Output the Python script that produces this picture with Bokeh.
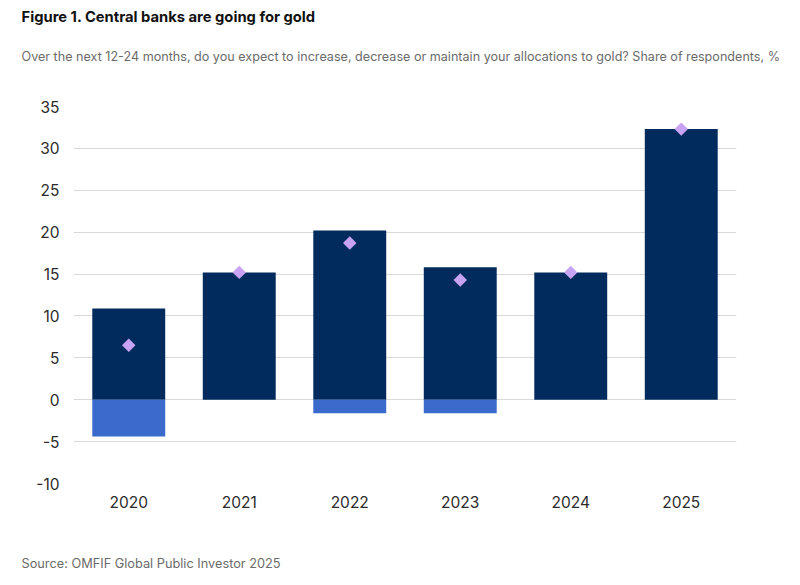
import math
from bokeh.plotting import figure
from bokeh.models import Title, FixedTicker, ColumnDataSource
from bokeh.embed import file_html
from bokeh.resources import INLINE

years = ["2020", "2021", "2022", "2023", "2024", "2025"]
increase = [10.9, 15.2, 20.2, 15.8, 15.2, 32.3]
decrease = [-4.4, 0.0, -1.6, -1.6, 0.0, 0.0]
net = [6.5, 15.2, 18.7, 14.3, 15.2, 32.3]
y_ticks = [-10, -5, 0, 5, 10, 15, 20, 25, 30, 35]

title_text = "Figure 1. Central banks are going for gold"
subtitle_text = ("Over the next 12-24 months, do you expect to increase, decrease or maintain "
                 "your allocations to gold? Share of respondents, %")
source_text = "Source: OMFIF Global Public Investor 2025"

src = ColumnDataSource(dict(year=years, inc=increase, dec=decrease, net=net))

p = figure(x_range=years, y_range=(-10, 35), width=784, height=585,
           output_backend="svg", toolbar_location=None,
           min_border_left=73, min_border_right=48, min_border_top=0, min_border_bottom=0)
p.x_range.range_padding = 0
p.outline_line_color = None
p.background_fill_color = "white"
p.border_fill_color = "white"

p.vbar(x="year", top="inc", bottom=0, width=0.66, source=src,
       fill_color="#022b5d", line_color=None)
p.vbar(x="year", top=0, bottom="dec", width=0.66, source=src,
       fill_color="#3a6bcc", line_color=None)
p.scatter(x="year", y="net", source=src, marker="square", angle=math.pi / 4,
          size=9.5, fill_color="#c9a3f3", line_color=None)

p.xgrid.grid_line_color = None
p.ygrid.grid_line_color = "#d9d9d9"
p.ygrid.grid_line_width = 1
p.yaxis.ticker = FixedTicker(ticks=y_ticks)
p.yaxis.major_label_overrides = {t: str(t) for t in y_ticks}

for ax in (p.xaxis, p.yaxis):
    ax.axis_line_color = None
    ax.major_tick_line_color = None
    ax.minor_tick_line_color = None
    ax.major_label_text_font = "Inter"
    ax.major_label_text_font_size = "15.5px"
    ax.major_label_text_color = "#2b2b2b"
p.yaxis.major_label_standoff = 8
p.xaxis.major_label_standoff = 6

# above: first added sits next to the frame
p.add_layout(Title(text=" ", text_font_size="2px", standoff=22), "above")
p.add_layout(Title(text=subtitle_text, text_font="Inter", text_font_style="normal",
                   text_font_size="12.6px", text_color="#6b6b6b",
                   offset=-52, standoff=33), "above")
p.add_layout(Title(text=title_text, text_font="Inter", text_font_style="bold",
                   text_font_size="14.75px", text_color="#111111",
                   offset=-52, standoff=10), "above")
# below
p.add_layout(Title(text=" ", text_font_size="2px", standoff=25), "below")
p.add_layout(Title(text=source_text, text_font="Inter", text_font_style="normal",
                   text_font_size="12.75px", text_color="#6b6b6b",
                   offset=-52, standoff=29), "below")

open("out.html", "w").write(file_html(p, INLINE))
